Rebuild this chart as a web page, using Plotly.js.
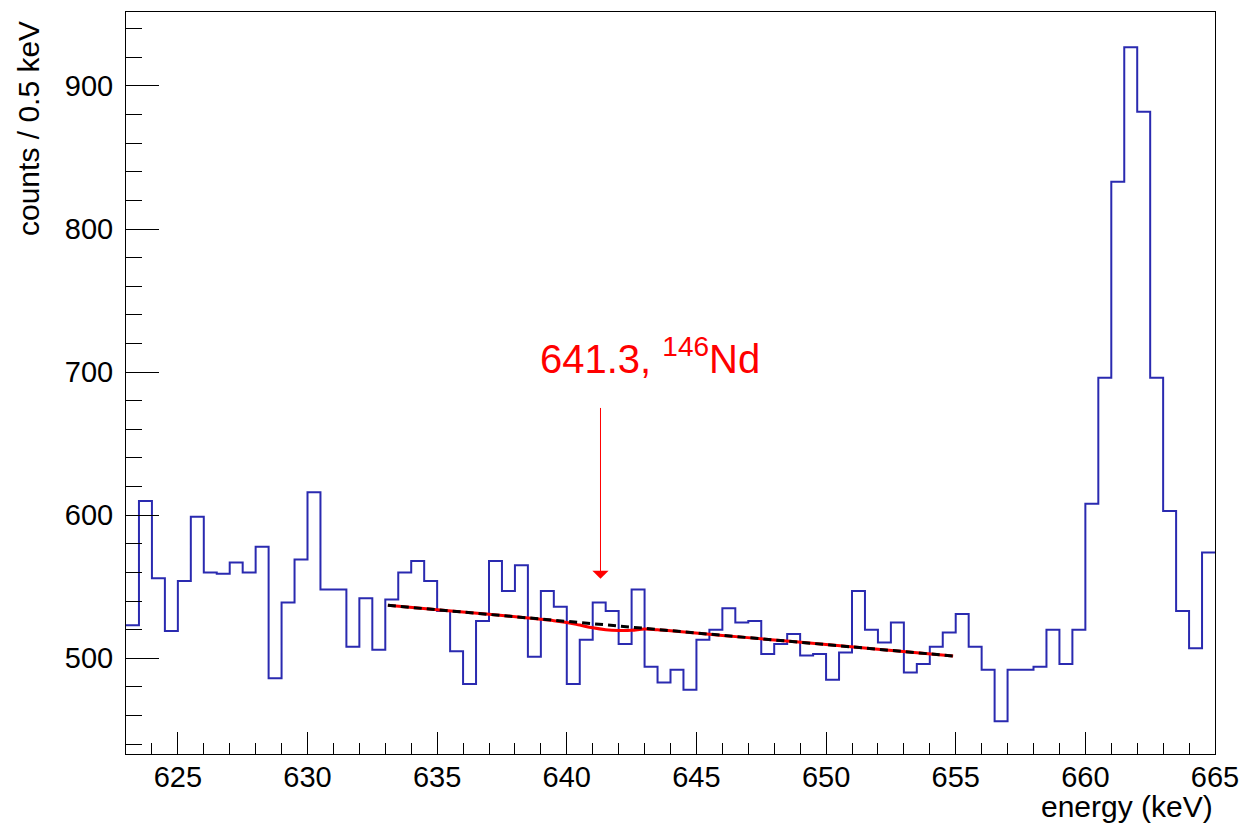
<!DOCTYPE html>
<html>
<head>
<meta charset="utf-8">
<script src="https://cdn.plot.ly/plotly-3.0.1.min.js"></script>
<style>
  html, body { margin: 0; padding: 0; background: #ffffff; }
  #chart { width: 1244px; height: 823px; }
</style>
</head>
<body>
<div id="chart"></div>
<script>
// Histogram: counts per 0.5 keV bin, first bin starts at 623.0 keV
const binStart = 623.0;
const binWidth = 0.5;
const counts = [
  523, 610, 556, 519, 554, 599, 560, 559, 567, 560,
  578, 486, 539, 569, 616, 548, 548, 508, 542, 506,
  541, 560, 568, 554, 533, 505, 482, 526, 568, 547,
  565, 501, 547, 536, 482, 513, 539, 533, 510, 548,
  494, 483, 492, 478, 513, 520, 535, 525, 526, 503,
  510, 517, 502, 503, 485, 504, 547, 520, 511, 525,
  490, 496, 508, 518, 531, 508, 492, 456, 492, 492,
  494, 520, 496, 520, 608, 696, 833, 927, 882, 696,
  603, 533, 507, 574
];

// Fit curve (red, background + peak term)
const fitEnergy = [633.1, 635, 637, 639, 639.5, 640, 640.5, 641, 641.5, 642, 642.5, 643, 643.5, 644, 646, 648, 650, 652, 654.9];
const fitCounts = [537.0, 533.9, 530.7, 527.3, 526.3, 525.0, 523.2, 521.3, 520.0, 519.5, 519.6, 520.4, 519.9, 519.3, 516.0, 512.8, 509.6, 506.3, 501.6];

// Linear background (black dashed)
const bgEnergy = [633.1, 654.9];
const bgCounts = [537.0, 501.6];

// Annotation
const peakLabel = '641.3, <sup>146</sup>Nd';
const peakEnergy = 641.3;
const arrowTipCounts = 555.5;
const arrowTailCounts = 676;
const labelEnergy = 643.2;
const labelCounts = 711;

const xTitle = 'energy (keV)';
const yTitle = 'counts / 0.5 keV';

// build step edges
const edges = counts.map((_, i) => binStart + i * binWidth);
edges.push(binStart + counts.length * binWidth);
const stepY = counts.concat([counts[counts.length - 1]]);

const FONT = 'Liberation Sans, Arial, sans-serif';

const traces = [
  {
    type: 'scatter', mode: 'lines',
    x: edges, y: stepY,
    line: { shape: 'hv', color: '#2a2ab0', width: 2 },
    hoverinfo: 'skip', showlegend: false
  },
  {
    type: 'scatter', mode: 'lines',
    x: fitEnergy, y: fitCounts,
    line: { shape: 'spline', color: '#ff0000', width: 3 },
    hoverinfo: 'skip', showlegend: false
  },
  {
    type: 'scatter', mode: 'lines',
    x: bgEnergy, y: bgCounts,
    line: { color: '#000000', width: 3, dash: '8px,5px' },
    hoverinfo: 'skip', showlegend: false
  }
];

const layout = {
  width: 1244, height: 823,
  margin: { l: 126, r: 29, t: 12, b: 69 },
  paper_bgcolor: '#ffffff', plot_bgcolor: '#ffffff',
  font: { family: FONT, color: '#000000', size: 29 },
  showlegend: false,
  xaxis: {
    range: [623, 665],
    tickmode: 'linear', tick0: 625, dtick: 5,
    ticks: 'inside', ticklen: 22, tickwidth: 1, tickcolor: '#000000',
    minor: { tickmode: 'linear', tick0: 623, dtick: 1, ticks: 'inside', ticklen: 11, tickwidth: 1, tickcolor: '#000000' },
    showgrid: false, zeroline: false,
    showline: true, mirror: true, linecolor: '#000000', linewidth: 1,
    tickfont: { family: FONT, size: 29, color: '#000000' },
    ticklabelstandoff: -3
  },
  yaxis: {
    range: [433.1, 951.7],
    tickmode: 'linear', tick0: 500, dtick: 100,
    ticks: 'inside', ticklen: 33, tickwidth: 1, tickcolor: '#000000',
    minor: { tickmode: 'linear', tick0: 440, dtick: 20, ticks: 'inside', ticklen: 16, tickwidth: 1, tickcolor: '#000000' },
    showgrid: false, zeroline: false,
    showline: true, mirror: true, linecolor: '#000000', linewidth: 1,
    tickfont: { family: FONT, size: 29, color: '#000000' },
    ticklabelstandoff: 6
  },
  annotations: [
    {
      xref: 'paper', yref: 'paper',
      x: 1, y: -0.071, xanchor: 'right', yanchor: 'middle',
      text: xTitle, showarrow: false,
      font: { family: FONT, size: 30, color: '#000000' }
    },
    {
      xref: 'paper', yref: 'paper',
      x: -0.089, y: 0.99, xanchor: 'center', yanchor: 'top',
      text: yTitle, textangle: -90, showarrow: false,
      font: { family: FONT, size: 30, color: '#000000' }
    },
    {
      xref: 'x', yref: 'y',
      x: labelEnergy, y: labelCounts, xanchor: 'center', yanchor: 'middle',
      text: peakLabel, showarrow: false,
      font: { family: FONT, size: 40, color: '#ff0000' }
    },
    {
      xref: 'x', yref: 'y', axref: 'x', ayref: 'y',
      x: peakEnergy, y: arrowTipCounts,
      ax: peakEnergy, ay: arrowTailCounts,
      text: '', showarrow: true,
      arrowhead: 1, arrowsize: 2.7, arrowwidth: 1, arrowcolor: '#ff0000'
    }
  ]
};

Plotly.newPlot('chart', traces, layout, { staticPlot: true, displayModeBar: false });
</script>
</body>
</html>
